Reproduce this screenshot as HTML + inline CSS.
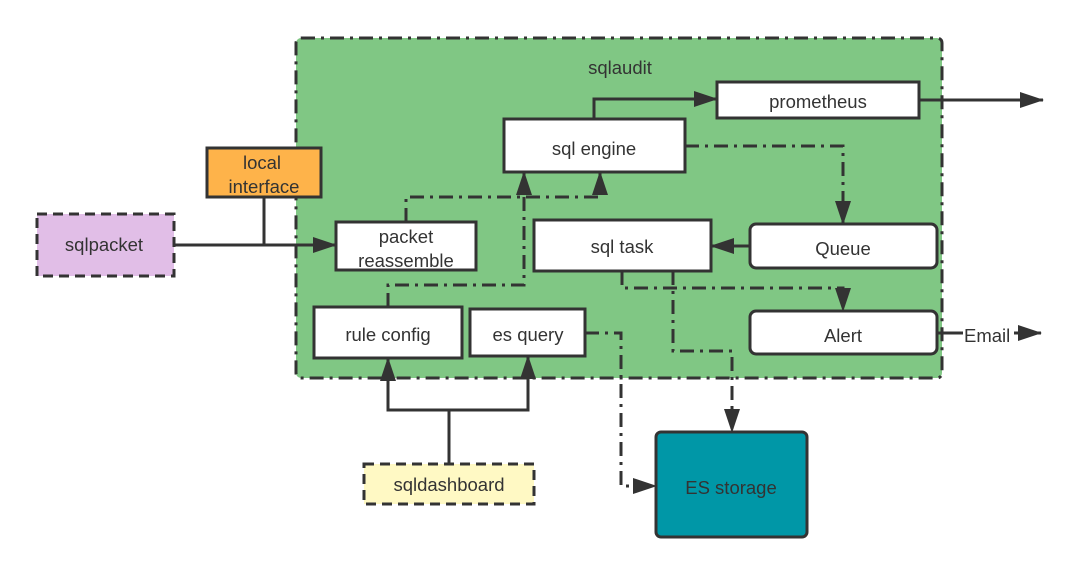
<!DOCTYPE html>
<html><head><meta charset="utf-8"><style>
html,body{margin:0;padding:0;background:#fff;width:1079px;height:574px;overflow:hidden}
text{font-family:"Liberation Sans","DejaVu Sans",sans-serif;font-size:18.5px;fill:#333;text-anchor:middle}
</style></head><body>
<svg width="1079" height="574" viewBox="0 0 1079 574" xmlns="http://www.w3.org/2000/svg">
<defs>
<marker id="b" markerWidth="24" markerHeight="16" refX="23" refY="8" orient="auto" markerUnits="userSpaceOnUse" viewBox="0 0 24 16">
<path d="M0,0 L24,8 L0,16 z" fill="#333"/></marker>
</defs>
<g stroke="#333" stroke-width="3" fill="none">
<rect x="296" y="38" width="646" height="340" rx="5" fill="#80c784" stroke-dasharray="14 6 3 6"/>
</g>
<text x="620" y="74">sqlaudit</text>
<g stroke="#333" stroke-width="3" fill="none">
<polyline points="174,245 336,245" marker-end="url(#b)"/>
<polyline points="264,197 264,245"/>
<polyline points="594,119 594,99 717,99" marker-end="url(#b)"/>
<polyline points="919,100 1043,100" marker-end="url(#b)"/>
<polyline points="685,146 843,146 843,224" stroke-dasharray="14 6 3 6" marker-end="url(#b)"/>
<polyline points="750,246 711,246" marker-end="url(#b)"/>
<polyline points="622,271 622,288 843,288 843,311" stroke-dasharray="14 6 3 6" marker-end="url(#b)"/>
<polyline points="673,271 673,351 732,351 732,432" stroke-dasharray="14 6 3 6" marker-end="url(#b)"/>
<polyline points="406,222 406,197 600,197 600,172" stroke-dasharray="14 6 3 6" marker-end="url(#b)"/>
<polyline points="388,307 388,285 524,285 524,172" stroke-dasharray="14 6 3 6" marker-end="url(#b)"/>
<polyline points="585,333 621,333 621,486 656,486" stroke-dasharray="14 6 3 6" marker-end="url(#b)"/>
<polyline points="937,333 963,333"/>
<polyline points="1014,333 1041,333" marker-end="url(#b)"/>
<polyline points="449,464 449,410 388,410 388,358" marker-end="url(#b)"/>
<polyline points="449,410 528,410 528,356" marker-end="url(#b)"/>
<rect x="717" y="82" width="202" height="36" fill="#fff"/>
<rect x="504" y="119" width="181" height="53" fill="#fff"/>
<rect x="336" y="222" width="140" height="48" fill="#fff"/>
<rect x="534" y="220" width="177" height="51" fill="#fff"/>
<rect x="750" y="224" width="187" height="44" rx="6" fill="#fff"/>
<rect x="314" y="307" width="148" height="51" fill="#fff"/>
<rect x="470" y="309" width="115" height="47" fill="#fff"/>
<rect x="750" y="311" width="187" height="43" rx="6" fill="#fff"/>
<rect x="207" y="148" width="114" height="49" fill="#feb34a"/>
<rect x="37" y="214" width="137" height="62" fill="#e1bee7" stroke-dasharray="10 6"/>
<rect x="364" y="464" width="170" height="40" fill="#fff9c4" stroke-dasharray="10 6"/>
<rect x="656" y="432" width="151" height="105" rx="5" fill="#0097a7"/>
</g>
<text x="818" y="108">prometheus</text>
<text x="594" y="155">sql engine</text>
<text x="406" y="243">packet</text>
<text x="406" y="267">reassemble</text>
<text x="622" y="253">sql task</text>
<text x="843" y="255">Queue</text>
<text x="388" y="341">rule config</text>
<text x="528" y="341">es query</text>
<text x="843" y="342">Alert</text>
<text x="262" y="169">local</text>
<text x="264" y="193">interface</text>
<text x="104" y="251">sqlpacket</text>
<text x="449" y="491">sqldashboard</text>
<text x="731" y="494">ES storage</text>
<text x="964" y="342" style="text-anchor:start">Email</text>
</svg>
</body></html>
